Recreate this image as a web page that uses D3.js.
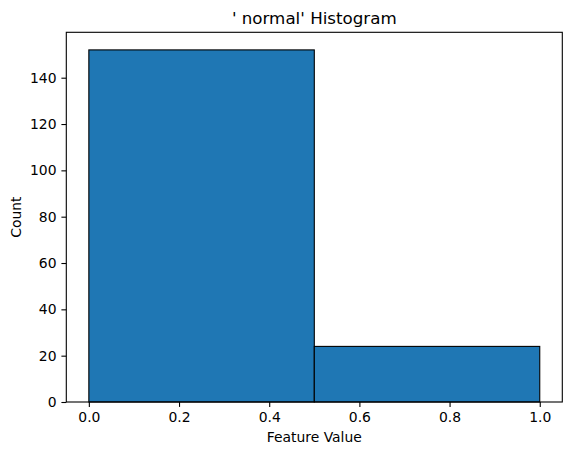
<!DOCTYPE html>
<html>
<head>
<meta charset="utf-8">
<script src="https://cdn.jsdelivr.net/npm/d3@7"></script>
<style>
  body { margin: 0; background: #fff; }
  text { font-family: "DejaVu Sans", sans-serif; fill: #000; }
</style>
</head>
<body>
<div id="chart"></div>
<script>
// histogram bins (edges) and counts
var binStart = [0.0, 0.5];
var binEnd = [0.5, 1.0];
var counts = [152, 24];
var xTicks = [0.0, 0.2, 0.4, 0.6, 0.8, 1.0];
var yTicks = [0, 20, 40, 60, 80, 100, 120, 140];

var w = 570, h = 454;
var margin = {left: 66.3, right: 7.7, top: 32.3, bottom: 52};

var svg = d3.select("#chart").append("svg")
	.attr("width", w)
	.attr("height", h);

var x = d3.scaleLinear()
	.domain([-0.05, 1.05])
	.range([margin.left, w - margin.right]);

var yMax = d3.max(counts) * 1.05;
var y = d3.scaleLinear()
	.domain([0, yMax])
	.range([h - margin.bottom, margin.top]);

var bins = counts.map(function(c, i) {
	return {x0: binStart[i], x1: binEnd[i], n: c};
});

svg.selectAll("rect.bar")
	.data(bins)
	.enter()
	.append("rect")
	.attr("class", "bar")
	.attr("x", function(d) { return x(d.x0); })
	.attr("width", function(d) { return x(d.x1) - x(d.x0); })
	.attr("y", function(d) { return y(d.n); })
	.attr("height", function(d) { return y(0) - y(d.n); })
	.attr("fill", "#1f77b4")
	.attr("stroke", "#000")
	.attr("stroke-width", 1.1);

var xAxis = d3.axisBottom(x)
	.tickValues(xTicks)
	.tickFormat(d3.format(".1f"))
	.tickSize(4.9)
	.tickPadding(4.9);

var yAxis = d3.axisLeft(y)
	.tickValues(yTicks)
	.tickFormat(d3.format("d"))
	.tickSize(4.9)
	.tickPadding(4.9);

var gx = svg.append("g")
	.attr("transform", "translate(0," + (h - margin.bottom) + ")")
	.call(xAxis);

var gy = svg.append("g")
	.attr("transform", "translate(" + margin.left + ",0)")
	.call(yAxis);

[gx, gy].forEach(function(g) {
	g.select(".domain").remove();
	g.selectAll(".tick line").attr("stroke", "#000").attr("stroke-width", 1.1);
	g.selectAll(".tick text")
		.style("font-family", "DejaVu Sans, sans-serif")
		.style("font-size", "13.9px")
		.attr("fill", "#000");
});

// axes frame (spines)
svg.append("rect")
	.attr("x", margin.left)
	.attr("y", margin.top)
	.attr("width", w - margin.left - margin.right)
	.attr("height", h - margin.top - margin.bottom)
	.attr("fill", "none")
	.attr("stroke", "#000")
	.attr("stroke-width", 1.1);

svg.append("text")
	.attr("x", (margin.left + w - margin.right) / 2)
	.attr("y", margin.top - 8.3)
	.attr("text-anchor", "middle")
	.style("font-size", "16.7px")
	.text("' normal' Histogram");

svg.append("text")
	.attr("x", (margin.left + w - margin.right) / 2)
	.attr("y", 442)
	.attr("text-anchor", "middle")
	.style("font-size", "13.9px")
	.text("Feature Value");

svg.append("text")
	.attr("transform", "translate(21," + ((margin.top + h - margin.bottom) / 2) + ") rotate(-90)")
	.attr("text-anchor", "middle")
	.style("font-size", "13.9px")
	.text("Count");
</script>
</body>
</html>
